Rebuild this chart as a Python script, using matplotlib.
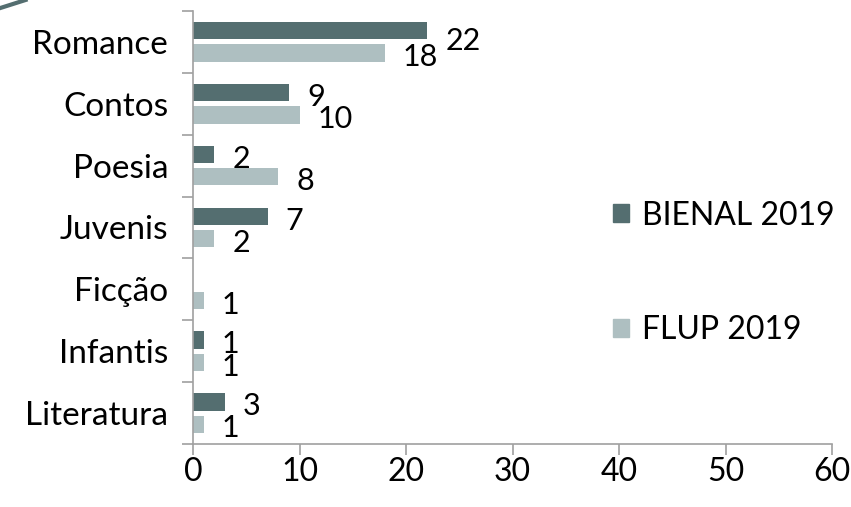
import matplotlib
matplotlib.use('Agg')
import matplotlib.pyplot as plt
import numpy as np
from matplotlib.patches import Patch
from matplotlib.lines import Line2D

# data
categories = ['Romance', 'Contos', 'Poesia', 'Juvenis', 'Ficção', 'Infantis', 'Literatura']
bienal = [22, 9, 2, 7, 0, 1, 3]
flup = [18, 10, 8, 2, 1, 1, 1]
series_names = ['BIENAL 2019', 'FLUP 2019']

dark = '#546e70'
light = '#aebfc1'
axis_grey = '#a0a0a0'

plt.rcParams['font.family'] = ['Lato', 'DejaVu Sans']

fig = plt.figure(figsize=(8.51, 5.07), dpi=100)
ax = fig.add_axes([0.2268, 0.1243, 0.7509, 0.854])

y = np.arange(len(categories))
h = 0.28
off = 0.18
ax.barh(y - off, bienal, height=h, color=dark)
ax.barh(y + off, flup, height=h, color=light)

# value labels, Excel-style; the Romance one sits a bit lower in the original
extra_dy = {0: -4}
for i, v in enumerate(bienal):
    if v == 0:
        continue
    ax.annotate(str(v), (v, i - off), xytext=(13, -9.5 + extra_dy.get(i, 0)),
                textcoords='offset points', ha='left', va='baseline', fontsize=22)
for i, v in enumerate(flup):
    ax.annotate(str(v), (v, i + off), xytext=(13, -9.5),
                textcoords='offset points', ha='left', va='baseline', fontsize=22)

ax.set_xlim(0, 60)
ax.set_ylim(len(categories) - 0.5, -0.5)
ax.set_xticks(range(0, 61, 10))
ax.set_yticks(y)
ax.set_yticklabels(categories, fontsize=24)
ax.set_yticks(np.arange(-0.5, len(categories), 1), minor=True)
ax.tick_params(axis='y', which='major', length=0, pad=18)
ax.tick_params(axis='y', which='minor', length=8, color=axis_grey, width=1.2)
ax.tick_params(axis='x', length=8, color=axis_grey, width=1.2, labelsize=23, pad=1.5)

for s in ['top', 'right']:
    ax.spines[s].set_visible(False)
for s in ['left', 'bottom']:
    ax.spines[s].set_color(axis_grey)
    ax.spines[s].set_linewidth(1.2)

handles = [Patch(color=dark), Patch(color=light)]
ax.legend(handles, series_names, loc='center left', bbox_to_anchor=(0.612, 0.395),
          frameon=False, fontsize=23, handlelength=0.5, handleheight=0.5,
          handletextpad=0.4, labelspacing=2.65)

# decorative corner stroke from the slide
fig.add_artist(Line2D([0, 0.03], [0.984, 1.0], transform=fig.transFigure,
                      color=dark, linewidth=3))

fig.savefig('out.png', dpi=100)
